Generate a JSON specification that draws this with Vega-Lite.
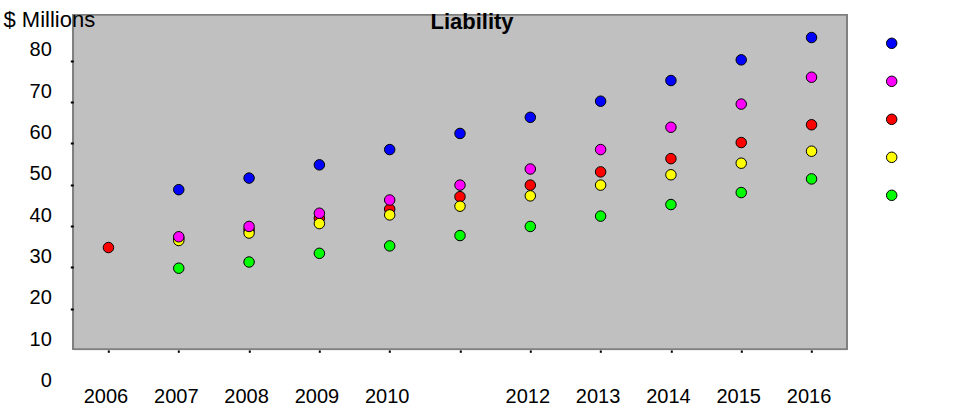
{
  "$schema": "https://vega.github.io/schema/vega-lite/v6.json",
  "width": 773.4,
  "height": 376.4,
  "autosize": "none",
  "padding": {"left": 73.3, "top": 15, "right": 124.3, "bottom": 17.6},
  "background": "white",
  "config": {
    "font": "Liberation Sans",
    "view": {"fill": null, "stroke": null}
  },
  "title": {
    "text": "Liability",
    "font": "Liberation Sans",
    "fontSize": 22,
    "fontWeight": "bold",
    "color": "black",
    "anchor": "middle",
    "frame": "group",
    "dx": 12,
    "dy": 31,
    "offset": -17,
    "baseline": "bottom"
  },
  "resolve": {"axis": {"y": "independent"}},
  "data": {
    "values": [
      {"year": 2007, "series": "Scenario 5", "value": 29.8},
      {"year": 2008, "series": "Scenario 5", "value": 31.3},
      {"year": 2009, "series": "Scenario 5", "value": 33.4},
      {"year": 2010, "series": "Scenario 5", "value": 35.2},
      {"year": 2011, "series": "Scenario 5", "value": 37.7},
      {"year": 2012, "series": "Scenario 5", "value": 39.9},
      {"year": 2013, "series": "Scenario 5", "value": 42.4},
      {"year": 2014, "series": "Scenario 5", "value": 45.2},
      {"year": 2015, "series": "Scenario 5", "value": 48.1},
      {"year": 2016, "series": "Scenario 5", "value": 51.4},
      {"year": 2006, "series": "Scenario 3", "value": 34.8},
      {"year": 2007, "series": "Scenario 3", "value": 37.0},
      {"year": 2008, "series": "Scenario 3", "value": 39.1},
      {"year": 2009, "series": "Scenario 3", "value": 41.9},
      {"year": 2010, "series": "Scenario 3", "value": 44.1},
      {"year": 2011, "series": "Scenario 3", "value": 47.1},
      {"year": 2012, "series": "Scenario 3", "value": 49.9},
      {"year": 2013, "series": "Scenario 3", "value": 53.1},
      {"year": 2014, "series": "Scenario 3", "value": 56.3},
      {"year": 2015, "series": "Scenario 3", "value": 60.2},
      {"year": 2016, "series": "Scenario 3", "value": 64.5},
      {"year": 2007, "series": "Scenario 4", "value": 36.5},
      {"year": 2008, "series": "Scenario 4", "value": 38.3},
      {"year": 2009, "series": "Scenario 4", "value": 40.6},
      {"year": 2010, "series": "Scenario 4", "value": 42.7},
      {"year": 2011, "series": "Scenario 4", "value": 44.8},
      {"year": 2012, "series": "Scenario 4", "value": 47.3},
      {"year": 2013, "series": "Scenario 4", "value": 49.9},
      {"year": 2014, "series": "Scenario 4", "value": 52.4},
      {"year": 2015, "series": "Scenario 4", "value": 55.2},
      {"year": 2016, "series": "Scenario 4", "value": 58.1},
      {"year": 2007, "series": "Scenario 2", "value": 37.4},
      {"year": 2008, "series": "Scenario 2", "value": 39.9},
      {"year": 2009, "series": "Scenario 2", "value": 43.1},
      {"year": 2010, "series": "Scenario 2", "value": 46.3},
      {"year": 2011, "series": "Scenario 2", "value": 49.9},
      {"year": 2012, "series": "Scenario 2", "value": 53.8},
      {"year": 2013, "series": "Scenario 2", "value": 58.5},
      {"year": 2014, "series": "Scenario 2", "value": 63.9},
      {"year": 2015, "series": "Scenario 2", "value": 69.5},
      {"year": 2016, "series": "Scenario 2", "value": 76.0},
      {"year": 2007, "series": "Scenario 1", "value": 48.8},
      {"year": 2008, "series": "Scenario 1", "value": 51.6},
      {"year": 2009, "series": "Scenario 1", "value": 54.8},
      {"year": 2010, "series": "Scenario 1", "value": 58.5},
      {"year": 2011, "series": "Scenario 1", "value": 62.4},
      {"year": 2012, "series": "Scenario 1", "value": 66.3},
      {"year": 2013, "series": "Scenario 1", "value": 70.2},
      {"year": 2014, "series": "Scenario 1", "value": 75.2},
      {"year": 2015, "series": "Scenario 1", "value": 80.2},
      {"year": 2016, "series": "Scenario 1", "value": 85.6}
    ]
  },
  "layer": [
    {
      "mark": {"type": "rect", "fill": "#C0C0C0", "stroke": "#808080", "strokeWidth": 1.5},
      "encoding": {
        "y": {"datum": 10.25, "type": "quantitative", "axis": null, "scale": {"domain": [0, 91.05], "nice": false, "zero": false}},
        "y2": {"datum": 91.05}
      }
    },
    {
      "mark": {"type": "point", "filled": true, "size": 110, "stroke": "black", "strokeWidth": 1, "opacity": 1},
      "encoding": {
        "x": {
          "field": "year",
          "type": "ordinal",
          "scale": {"padding": 0.5},
          "axis": {
            "title": null,
            "offset": -42.1,
            "labelAngle": 0,
            "labelFont": "Liberation Sans",
            "labelFontSize": 20,
            "labelColor": "black",
            "labelOffset": -3,
            "labelPadding": 34.5,
            "labelBaseline": "top",
            "tickSize": 3,
            "tickWidth": 2,
            "tickColor": "black",
            "domainColor": "#e4e4e4",
            "domainWidth": 1.5,
            "labelExpr": "datum.value == 2011 ? '' : datum.label"
          }
        },
        "y": {
          "field": "value",
          "type": "quantitative",
          "scale": {"domain": [0, 91.05], "nice": false, "zero": false},
          "axis": {
            "zindex": 1,
            "values": [0, 10, 20, 30, 40, 50, 60, 70, 80],
            "grid": false,
            "domain": false,
            "title": "$ Millions",
            "titleAngle": 0,
            "titleAlign": "left",
            "titleBaseline": "alphabetic",
            "titleX": -70.3,
            "titleY": 11,
            "titleFont": "Liberation Sans",
            "titleFontSize": 22,
            "titleFontWeight": "normal",
            "titleColor": "black",
            "labelFont": "Liberation Sans",
            "labelFontSize": 20,
            "labelColor": "black",
            "labelOffset": -11,
            "labelPadding": 19,
            "labelOverlap": false,
            "labelBound": false,
            "labelFlush": false,
            "tickSize": 3,
            "tickWidth": 2,
            "tickColor": {"condition": {"test": "datum.value <= 10", "value": "transparent"}, "value": "black"}
          }
        },
        "color": {
          "field": "series",
          "type": "nominal",
          "scale": {
            "domain": ["Scenario 1", "Scenario 2", "Scenario 3", "Scenario 4", "Scenario 5"],
            "range": ["#0000FF", "#FF00FF", "#FF0000", "#FFFF00", "#00FF00"]
          },
          "legend": {
            "title": null,
            "orient": "none",
            "legendX": 812.4,
            "legendY": 22.3,
            "padding": 0,
            "rowPadding": 22,
            "symbolType": "circle",
            "symbolSize": 110,
            "symbolStrokeColor": "black",
            "symbolStrokeWidth": 1,
            "symbolOpacity": 1,
            "labelColor": "white",
            "labelFontSize": 11
          }
        }
      }
    }
  ]
}
